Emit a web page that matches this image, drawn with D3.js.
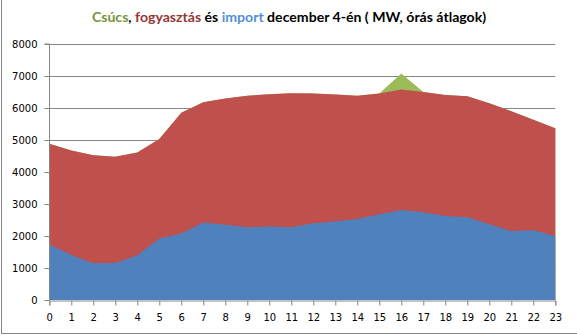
<!DOCTYPE html>
<html><head><meta charset="utf-8">
<script src="https://cdn.jsdelivr.net/npm/d3@7/dist/d3.min.js"></script>
<style>body{margin:0;background:#fff}svg{display:block}</style>
</head><body>
<svg id="c" width="577" height="335"></svg>
<script>
const hours = d3.range(0, 24);
const consumption = [4880,4670,4520,4480,4610,5030,5850,6180,6300,6380,6430,6460,6455,6420,6385,6450,6580,6500,6410,6365,6150,5900,5630,5370];
const importVals = [1740,1410,1150,1160,1400,1920,2080,2420,2355,2275,2300,2275,2395,2450,2530,2680,2815,2740,2625,2585,2365,2155,2180,2000];
const peak = consumption.map((v, i) => i === 16 ? 7080 : v);
const yTicks = [0,1000,2000,3000,4000,5000,6000,7000,8000];

const svg = d3.select("#c");
const x = d3.scaleLinear().domain([0, 23]).range([49.3, 555.3]);
const y = d3.scaleLinear().domain([0, 8000]).range([300, 44]);

// outer border (cropped)
svg.append("rect").attr("x", 1.5).attr("y", -10).attr("width", 620).attr("height", 343.5)
  .attr("fill", "none").attr("stroke", "#868686").attr("stroke-width", 1);

// gridlines
svg.append("g").selectAll("line").data(yTicks.slice(1)).join("line")
  .attr("x1", x(0)).attr("x2", x(23))
  .attr("y1", d => Math.round(y(d)) + 0.5).attr("y2", d => Math.round(y(d)) + 0.5)
  .attr("stroke", "#868686");

const area = vals => d3.area().x((d, i) => x(hours[i])).y0(y(0)).y1(d => y(d))(vals);
svg.append("path").attr("d", area(peak)).attr("fill", "#9BBB59");
svg.append("path").attr("d", area(consumption)).attr("fill", "#C0504D");
svg.append("path").attr("d", area(importVals)).attr("fill", "#4F81BD");

// axes
const yAxis = d3.axisLeft(y).tickValues(yTicks).tickSize(5).tickPadding(7).tickFormat(d3.format("d"));
const gy = svg.append("g").attr("transform", `translate(${Math.round(x(0)) + 0.5},0)`).call(yAxis);
const xAxis = d3.axisBottom(x).tickValues(hours).tickSize(5).tickPadding(8).tickFormat(d3.format("d"));
const gx = svg.append("g").attr("transform", `translate(0,${Math.round(y(0)) + 0.5})`).call(xAxis);
[gx, gy].forEach(g => {
  g.select(".domain").attr("stroke", "#868686");
  g.selectAll(".tick line").attr("stroke", "#868686");
  g.selectAll("text").attr("font-family", "DejaVu Sans, Verdana, sans-serif").attr("font-size", 10).attr("fill", "#000");
});
gy.select(".domain").attr("d", `M-5,${y(8000)}H0V${y(0)}`);

// title
const t = svg.append("text").attr("x", 289).attr("y", 22).attr("text-anchor", "middle")
  .attr("font-family", "Lato, Carlito, sans-serif").attr("font-weight", "bold").attr("font-size", 14.1);
t.append("tspan").attr("fill", "#77933C").text("Csúcs");
t.append("tspan").attr("fill", "#000").text(", ");
t.append("tspan").attr("fill", "#953735").text("fogyasztás");
t.append("tspan").attr("fill", "#000").text(" és ");
t.append("tspan").attr("fill", "#558ED5").text("import");
t.append("tspan").attr("fill", "#000").text(" december 4-én ( MW, órás átlagok)");
</script>
</body></html>
